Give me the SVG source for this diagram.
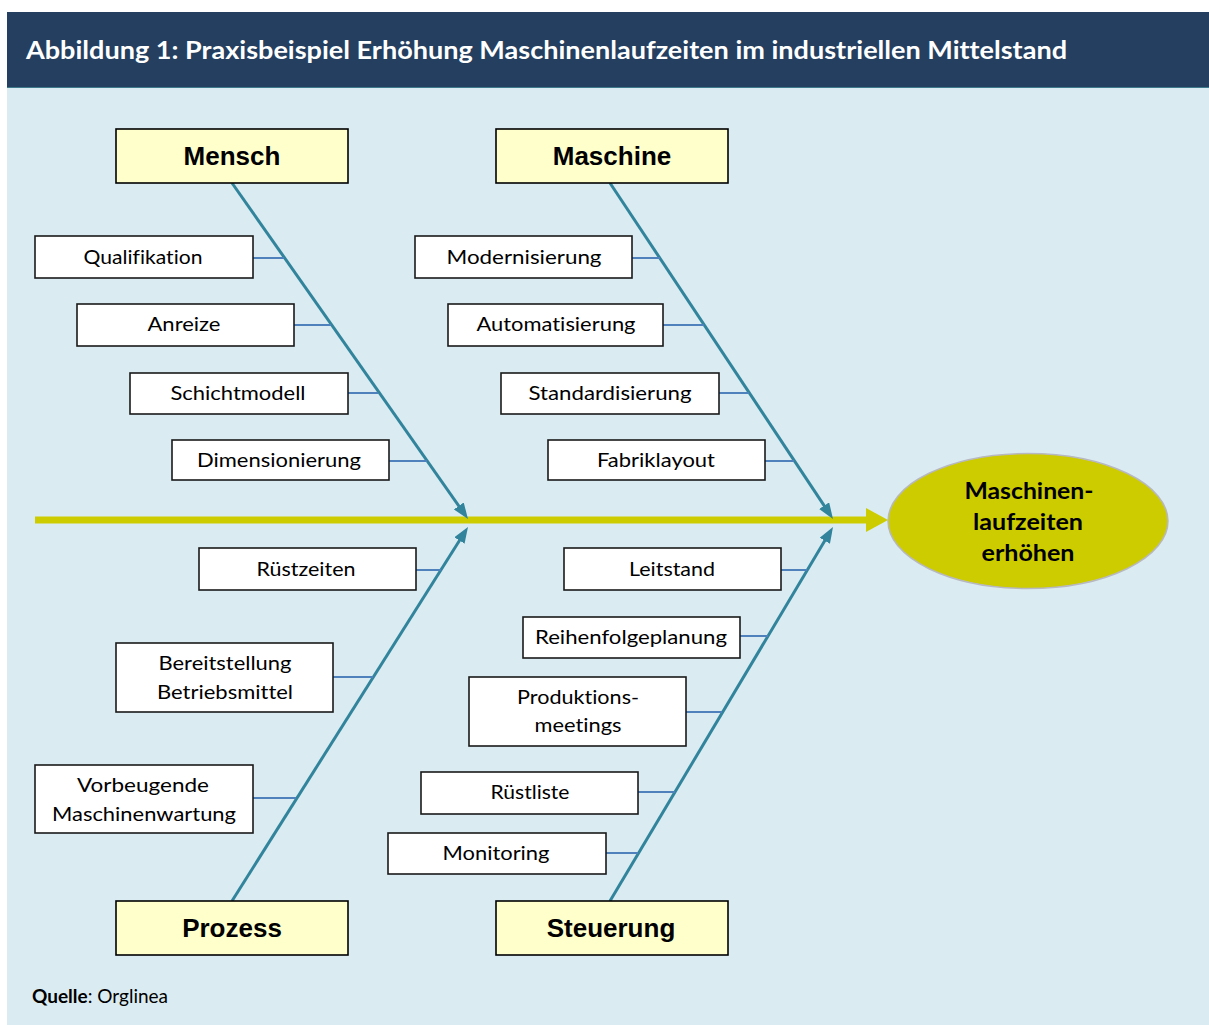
<svg xmlns="http://www.w3.org/2000/svg" width="1209" height="1025" viewBox="0 0 1209 1025">
<style>
text{font-variant-ligatures:none}
.cat{fill:#FFFFCC;stroke:#000;stroke-width:1.6}
.box{fill:#fff;stroke:#1a1a1a;stroke-width:1.6}
.catt{font-family:"Liberation Sans",Arial,sans-serif;font-weight:bold;font-size:26px;fill:#000;text-anchor:middle}
.lbl{font-family:Lato,"Open Sans",sans-serif;font-size:20px;fill:#000;text-anchor:middle}
.bone{stroke:#31849B;stroke-width:3;fill:none}
.sub{stroke:#4F81BD;stroke-width:2;fill:none}
.eltx{font-family:Lato,"Open Sans",sans-serif;font-weight:bold;font-size:23px;fill:#000;text-anchor:middle}
</style>
<defs>
<marker id="ah" viewBox="0 0 16 12" refX="6" refY="6" markerWidth="16" markerHeight="12" markerUnits="userSpaceOnUse" orient="auto">
<path d="M0,0 L16,6 L0,12 z" fill="#31849B"/>
</marker>
<marker id="ahy" viewBox="0 0 22 24" refX="1" refY="12" markerWidth="22" markerHeight="24" markerUnits="userSpaceOnUse" orient="auto">
<path d="M0,0 L22,12 L0,24 z" fill="#CCCC00"/>
</marker>
</defs>
<rect x="0" y="0" width="1209" height="1025" fill="#fff"/>
<rect x="7" y="88" width="1202" height="937" fill="#DAECF2"/>
<rect x="7" y="12" width="1202" height="76" fill="#243F60"/>
<line x1="7" y1="87.5" x2="1209" y2="87.5" stroke="#3D7A8C" stroke-width="1"/>
<text x="26" y="59" font-family="Lato,'Open Sans',sans-serif" font-weight="bold" font-size="25" fill="#fff" textLength="1041" lengthAdjust="spacingAndGlyphs">Abbildung 1: Praxisbeispiel Erhöhung Maschinenlaufzeiten im industriellen Mittelstand</text>

<g id="connectors">
<line x1="35" y1="520" x2="867" y2="520" stroke="#CCCC00" stroke-width="7" marker-end="url(#ahy)"/>
<line class="bone" x1="232" y1="183" x2="462.25" y2="510.82" marker-end="url(#ah)"/>
<line class="bone" x1="610" y1="183" x2="827.47" y2="510.67" marker-end="url(#ah)"/>
<line class="bone" x1="232" y1="901" x2="462.66" y2="535.46" marker-end="url(#ah)"/>
<line class="bone" x1="610" y1="901" x2="827.88" y2="535.59" marker-end="url(#ah)"/>
<line class="sub" x1="253" y1="258" x2="284" y2="258"/>
<line class="sub" x1="294" y1="325" x2="331" y2="325"/>
<line class="sub" x1="348" y1="393" x2="378" y2="393"/>
<line class="sub" x1="389" y1="461" x2="427" y2="461"/>
<line class="sub" x1="632" y1="258" x2="660" y2="258"/>
<line class="sub" x1="663" y1="325" x2="704" y2="325"/>
<line class="sub" x1="719" y1="393" x2="749" y2="393"/>
<line class="sub" x1="765" y1="461" x2="794" y2="461"/>
<line class="sub" x1="416" y1="570" x2="441" y2="570"/>
<line class="sub" x1="333" y1="677" x2="373" y2="677"/>
<line class="sub" x1="253" y1="798" x2="296" y2="798"/>
<line class="sub" x1="781" y1="570" x2="807" y2="570"/>
<line class="sub" x1="740" y1="636" x2="768" y2="636"/>
<line class="sub" x1="686" y1="712" x2="722" y2="712"/>
<line class="sub" x1="638" y1="792" x2="675" y2="792"/>
<line class="sub" x1="606" y1="853" x2="638" y2="853"/>
</g>

<g id="mensch"><rect class="cat" x="116" y="129" width="232" height="54"/><text class="catt" x="232" y="165">Mensch</text></g>
<g id="maschine"><rect class="cat" x="496" y="129" width="232" height="54"/><text class="catt" x="612" y="165">Maschine</text></g>
<g id="prozess"><rect class="cat" x="116" y="901" width="232" height="54"/><text class="catt" x="232" y="937">Prozess</text></g>
<g id="steuerung"><rect class="cat" x="496" y="901" width="232" height="54"/><text class="catt" x="611" y="937">Steuerung</text></g>

<g id="qualifikation"><rect class="box" x="35" y="236" width="218" height="42"/><text class="lbl" x="143" y="264" textLength="119" lengthAdjust="spacingAndGlyphs">Qualifikation</text></g>
<g id="anreize"><rect class="box" x="77" y="304" width="217" height="42"/><text class="lbl" x="184" y="331" textLength="73" lengthAdjust="spacingAndGlyphs">Anreize</text></g>
<g id="schichtmodell"><rect class="box" x="130" y="373" width="218" height="41"/><text class="lbl" x="238" y="400" textLength="135" lengthAdjust="spacingAndGlyphs">Schichtmodell</text></g>
<g id="dimensionierung"><rect class="box" x="172" y="440" width="217" height="40"/><text class="lbl" x="279" y="467" textLength="164" lengthAdjust="spacingAndGlyphs">Dimensionierung</text></g>

<g id="modernisierung"><rect class="box" x="415" y="236" width="217" height="42"/><text class="lbl" x="524" y="264" textLength="155" lengthAdjust="spacingAndGlyphs">Modernisierung</text></g>
<g id="automatisierung"><rect class="box" x="448" y="304" width="215" height="42"/><text class="lbl" x="556" y="331" textLength="159" lengthAdjust="spacingAndGlyphs">Automatisierung</text></g>
<g id="standardisierung"><rect class="box" x="501" y="373" width="218" height="41"/><text class="lbl" x="610" y="400" textLength="163" lengthAdjust="spacingAndGlyphs">Standardisierung</text></g>
<g id="fabriklayout"><rect class="box" x="548" y="440" width="217" height="40"/><text class="lbl" x="656" y="467" textLength="118" lengthAdjust="spacingAndGlyphs">Fabriklayout</text></g>

<g id="ruestzeiten"><rect class="box" x="199" y="548" width="217" height="42"/><text class="lbl" x="306" y="576" textLength="99" lengthAdjust="spacingAndGlyphs">Rüstzeiten</text></g>
<g id="bereitstellung"><rect class="box" x="116" y="643" width="217" height="69"/><text class="lbl" x="225" y="670" textLength="133" lengthAdjust="spacingAndGlyphs">Bereitstellung</text><text class="lbl" x="225" y="699" textLength="136" lengthAdjust="spacingAndGlyphs">Betriebsmittel</text></g>
<g id="vorbeugende"><rect class="box" x="35" y="765" width="218" height="68"/><text class="lbl" x="143" y="792" textLength="132" lengthAdjust="spacingAndGlyphs">Vorbeugende</text><text class="lbl" x="144" y="821" textLength="184" lengthAdjust="spacingAndGlyphs">Maschinenwartung</text></g>

<g id="leitstand"><rect class="box" x="564" y="548" width="217" height="42"/><text class="lbl" x="672" y="576" textLength="86" lengthAdjust="spacingAndGlyphs">Leitstand</text></g>
<g id="reihenfolgeplanung"><rect class="box" x="523" y="617" width="217" height="41"/><text class="lbl" x="631" y="644" textLength="192" lengthAdjust="spacingAndGlyphs">Reihenfolgeplanung</text></g>
<g id="produktionsmeetings"><rect class="box" x="469" y="677" width="217" height="69"/><text class="lbl" x="578" y="704" textLength="122" lengthAdjust="spacingAndGlyphs">Produktions-</text><text class="lbl" x="578" y="732" textLength="87" lengthAdjust="spacingAndGlyphs">meetings</text></g>
<g id="ruestliste"><rect class="box" x="421" y="772" width="217" height="42"/><text class="lbl" x="530" y="799" textLength="79" lengthAdjust="spacingAndGlyphs">Rüstliste</text></g>
<g id="monitoring"><rect class="box" x="388" y="833" width="218" height="41"/><text class="lbl" x="496" y="860" textLength="107" lengthAdjust="spacingAndGlyphs">Monitoring</text></g>

<g id="ziel">
<ellipse cx="1028" cy="521" rx="140" ry="67.5" fill="#CCCC00" stroke="#B8B8C0" stroke-width="1.5"/>
<text class="eltx" x="1029" y="499" textLength="129" lengthAdjust="spacingAndGlyphs">Maschinen-</text>
<text class="eltx" x="1028" y="530" textLength="110" lengthAdjust="spacingAndGlyphs">laufzeiten</text>
<text class="eltx" x="1028" y="561" textLength="93" lengthAdjust="spacingAndGlyphs">erhöhen</text>
</g>

<text x="32" y="1003" font-family="Lato,'Open Sans',sans-serif" font-size="19" fill="#000"><tspan font-weight="bold">Quelle</tspan>: Orglinea</text>
</svg>
